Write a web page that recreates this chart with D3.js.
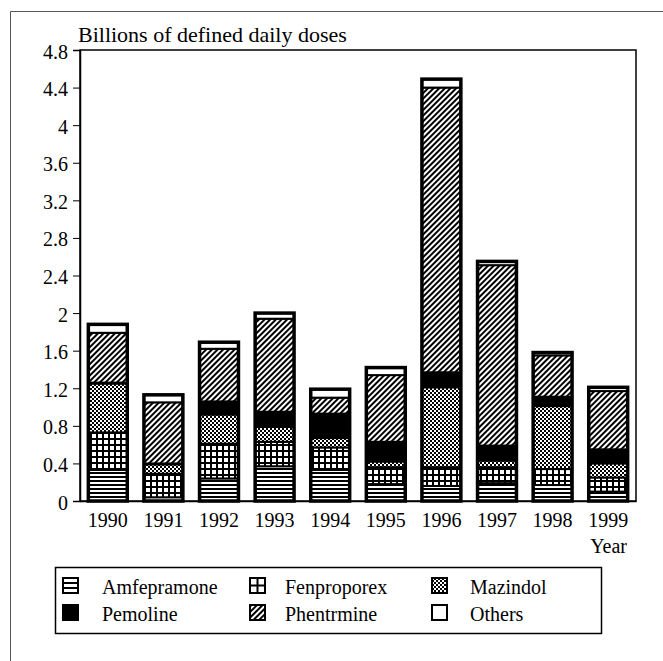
<!DOCTYPE html>
<html>
<head>
<meta charset="utf-8">
<script src="https://cdn.jsdelivr.net/npm/d3@7"></script>
<style>
  body { margin: 0; background: #fff; }
  svg text { font-family: "Liberation Serif", "Tinos", "Times New Roman", "DejaVu Serif", serif; }
</style>
</head>
<body>
<svg width="663" height="661"></svg>
<script>
// values, billions of DDD
const years = ['1990', '1991', '1992', '1993', '1994', '1995', '1996', '1997', '1998', '1999'];
const amfepramone = [0.33, 0.04, 0.24, 0.37, 0.33, 0.18, 0.16, 0.19, 0.17, 0.10];
const fenproporex = [0.40, 0.25, 0.37, 0.26, 0.24, 0.18, 0.20, 0.17, 0.17, 0.15];
const mazindol    = [0.52, 0.10, 0.31, 0.16, 0.10, 0.06, 0.85, 0.07, 0.67, 0.15];
const pemoline    = [0.01, 0.01, 0.14, 0.16, 0.26, 0.21, 0.16, 0.16, 0.10, 0.15];
const phentermine = [0.53, 0.65, 0.56, 0.99, 0.17, 0.71, 3.03, 1.92, 0.44, 0.62];
const others      = [0.09, 0.08, 0.07, 0.06, 0.09, 0.08, 0.09, 0.04, 0.03, 0.04];
const yTicks = [0, 0.4, 0.8, 1.2, 1.6, 2, 2.4, 2.8, 3.2, 3.6, 4, 4.4, 4.8];

const keys = ['Amfepramone', 'Fenproporex', 'Mazindol', 'Pemoline', 'Phentrmine', 'Others'];
const seriesValues = [amfepramone, fenproporex, mazindol, pemoline, phentermine, others];

const table = years.map((y, i) => {
  const row = { year: y };
  keys.forEach((k, j) => row[k] = seriesValues[j][i]);
  return row;
});

const svg = d3.select('svg');
const plotLeft = 80, plotRight = 636, plotTop = 50, plotBottom = 501;

// patterns
const defs = svg.append('defs');
const fills = {};

const pHor = defs.append('pattern').attr('id', 'p-amf')
  .attr('patternUnits', 'userSpaceOnUse').attr('width', 4).attr('height', 4);
pHor.append('rect').attr('width', 4).attr('height', 4).attr('fill', '#fff');
pHor.append('rect').attr('width', 4).attr('height', 2).attr('fill', '#000');
fills['Amfepramone'] = 'url(#p-amf)';

const pGrid = defs.append('pattern').attr('id', 'p-fen')
  .attr('patternUnits', 'userSpaceOnUse').attr('width', 6).attr('height', 6);
pGrid.append('rect').attr('width', 6).attr('height', 6).attr('fill', '#fff');
pGrid.append('rect').attr('width', 6).attr('height', 2).attr('fill', '#000');
pGrid.append('rect').attr('width', 2).attr('height', 6).attr('fill', '#000');
fills['Fenproporex'] = 'url(#p-fen)';

const pChk = defs.append('pattern').attr('id', 'p-maz')
  .attr('patternUnits', 'userSpaceOnUse').attr('width', 4).attr('height', 4);
pChk.append('rect').attr('width', 4).attr('height', 4).attr('fill', '#000');
pChk.append('rect').attr('width', 2).attr('height', 2).attr('fill', '#fff');
pChk.append('rect').attr('x', 2).attr('y', 2).attr('width', 2).attr('height', 2).attr('fill', '#fff');
fills['Mazindol'] = 'url(#p-maz)';

fills['Pemoline'] = '#000';

const pDiag = defs.append('pattern').attr('id', 'p-phe')
  .attr('patternUnits', 'userSpaceOnUse').attr('width', 4).attr('height', 4)
  .attr('patternTransform', 'rotate(45)');
pDiag.append('rect').attr('width', 4).attr('height', 4).attr('fill', '#fff');
pDiag.append('rect').attr('width', 2).attr('height', 4).attr('fill', '#000');
fills['Phentrmine'] = 'url(#p-phe)';

fills['Others'] = '#fff';

// outer frame (cropped page)
svg.append('path').attr('d', 'M10.5,661V11.5H663')
  .attr('fill', 'none').attr('stroke', '#555').attr('stroke-width', 1);

const xScale = d3.scaleBand().domain(years).range([plotLeft, plotRight]).paddingInner(0.3).paddingOuter(0.15);
const yScale = d3.scaleLinear().domain([0, 4.8]).range([plotBottom, plotTop]);

// plot box
svg.append('rect')
  .attr('x', plotLeft).attr('y', plotTop).attr('width', plotRight - plotLeft).attr('height', plotBottom - plotTop)
  .attr('fill', 'none').attr('stroke', '#000').attr('stroke-width', 1.5);

const stacked = d3.stack().keys(keys)(table);

const layers = svg.append('g').selectAll('g')
  .data(stacked)
  .join('g')
    .attr('fill', d => fills[d.key]);

layers.selectAll('rect')
  .data(d => d)
  .join('rect')
    .attr('x', d => xScale(d.data.year))
    .attr('y', d => yScale(d[1]))
    .attr('width', xScale.bandwidth())
    .attr('height', d => yScale(d[0]) - yScale(d[1]))
    .attr('stroke', '#000')
    .attr('stroke-width', 2);

// thick outline round each bar
const total = d => keys.reduce((s, k) => s + d[k], 0);
svg.append('g').selectAll('rect')
  .data(table)
  .join('rect')
    .attr('x', d => xScale(d.year))
    .attr('y', d => yScale(total(d)))
    .attr('width', xScale.bandwidth())
    .attr('height', d => plotBottom - yScale(total(d)))
    .attr('fill', 'none')
    .attr('stroke', '#000')
    .attr('stroke-width', 3.5);

// axes
const yAxis = d3.axisLeft(yScale).tickValues(yTicks).tickSize(7).tickPadding(5)
  .tickFormat(d => String(+d.toFixed(1)));
svg.append('g')
  .attr('transform', `translate(${plotLeft}, 0)`)
  .call(yAxis)
  .call(g => g.attr('font-family', null))
  .call(g => g.select('.domain').attr('stroke-width', 1.5))
  .call(g => g.selectAll('text').attr('font-size', 20).attr('dy', '0.4em'));

const xAxis = d3.axisBottom(xScale).tickSize(0).tickPadding(12);
svg.append('g')
  .attr('transform', `translate(0, ${plotBottom})`)
  .call(xAxis)
  .call(g => g.attr('font-family', null))
  .call(g => g.select('.domain').attr('stroke-width', 1.5))
  .call(g => g.selectAll('text').attr('font-size', 20));

svg.append('text')
  .attr('x', 78).attr('y', 42)
  .attr('font-size', 22)
  .text('Billions of defined daily doses');

svg.append('text')
  .attr('x', 627).attr('y', 553)
  .attr('text-anchor', 'end')
  .attr('font-size', 20)
  .text('Year');

// legend
const legend = svg.append('g');
legend.append('rect')
  .attr('x', 55.5).attr('y', 567.5).attr('width', 546).attr('height', 66)
  .attr('fill', 'none').attr('stroke', '#000').attr('stroke-width', 1.5);

const colX = [63, 250, 432];
const textX = [102, 285, 470];
const rowY = [578, 605];
const sw = 15;

const items = legend.selectAll('g.item')
  .data(keys)
  .join('g')
    .attr('class', 'item')
    .attr('transform', (d, i) => `translate(${colX[i % 3]}, ${rowY[Math.floor(i / 3)]})`);

items.append('rect')
  .attr('width', sw).attr('height', sw)
  .attr('fill', d => (d === 'Amfepramone' || d === 'Fenproporex') ? '#fff' : fills[d])
  .attr('stroke', '#000').attr('stroke-width', 2);

items.filter(d => d === 'Amfepramone')
  .selectAll('line').data([sw / 3, 2 * sw / 3]).join('line')
    .attr('x1', 0).attr('x2', sw).attr('y1', d => d).attr('y2', d => d)
    .attr('stroke', '#000').attr('stroke-width', 2);

items.filter(d => d === 'Fenproporex')
  .call(g => g.append('line').attr('x1', 0).attr('x2', sw).attr('y1', sw / 2).attr('y2', sw / 2)
    .attr('stroke', '#000').attr('stroke-width', 2))
  .call(g => g.append('line').attr('y1', 0).attr('y2', sw).attr('x1', sw / 2).attr('x2', sw / 2)
    .attr('stroke', '#000').attr('stroke-width', 2));

legend.selectAll('text')
  .data(keys)
  .join('text')
    .attr('x', (d, i) => textX[i % 3])
    .attr('y', (d, i) => rowY[Math.floor(i / 3)] + 16)
    .attr('font-size', 20)
    .text(d => d);
</script>
</body>
</html>
